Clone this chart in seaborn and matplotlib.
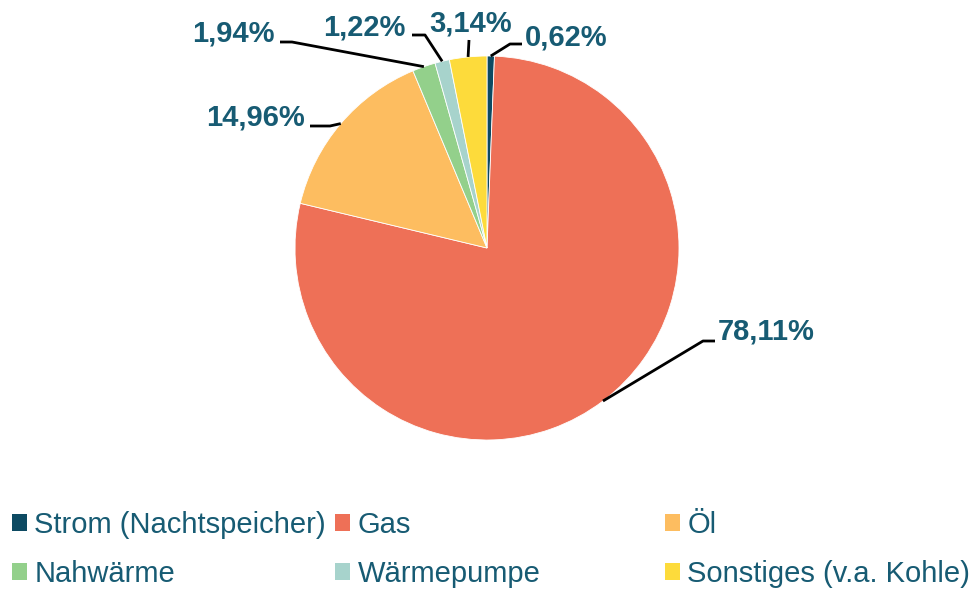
import numpy as np
import matplotlib
matplotlib.use("Agg")
import matplotlib.pyplot as plt
import seaborn as sns
from matplotlib.patches import Patch

sns.set_theme(style="white")
plt.rcParams['font.family'] = ['Liberation Sans', 'DejaVu Sans']

# data
categories = ["Strom (Nachtspeicher)", "Gas", "Öl", "Nahwärme", "Wärmepumpe", "Sonstiges (v.a. Kohle)"]
shares = [0.62, 78.11, 14.96, 1.94, 1.22, 3.14]
colors = sns.color_palette(["#0d4a62", "#ee7057", "#fdbd60", "#93d08b", "#a7d3cc", "#fddb3b"])

TEXT_COLOR = "#175b73"
W, H = 970, 590
CX, CY, R = 487, 248, 192  # pie centre / radius in pixels


def px(x, y):
    # pixel position (from top-left) -> data coords of the pie axes
    return (x - CX) / R, (CY - y) / R


# label layout: (elbow px, line end px, text px, ha, va)
label_layout = [
    ((510, 44), (522, 44), (525, 38), "left", "center"),
    ((703, 341), (715, 341), (718, 332), "left", "center"),
    ((330, 126), (310, 126), (305, 117), "right", "center"),
    ((292, 42), (280, 42), (275, 33), "right", "center"),
    ((425, 35), (412, 35), (406, 27), "right", "center"),
    ((469, 40), (469, 40), (471, 23), "center", "center"),
]

fig = plt.figure(figsize=(W / 100, H / 100), dpi=100)
ax = fig.add_axes([0, 0, 1, 1])

wedges, _ = ax.pie(shares, colors=colors, startangle=90, counterclock=False,
                   radius=1, wedgeprops=dict(edgecolor="white", linewidth=0.6))

ax.set_aspect("auto")
ax.set_xlim(-CX / R, (W - CX) / R)
ax.set_ylim(-(H - CY) / R, CY / R)
ax.axis("off")

for w, val, (elbow, end, txt, ha, va) in zip(wedges, shares, label_layout):
    mid = np.deg2rad((w.theta1 + w.theta2) / 2)
    sx, sy = np.cos(mid), np.sin(mid)
    ex, ey = px(*elbow)
    nx, ny = px(*end)
    ax.plot([sx, ex, nx], [sy, ey, ny], color="black", lw=2, solid_capstyle="butt")
    tx, ty = px(*txt)
    ax.text(tx, ty, f"{val:.2f}".replace(".", ",") + "%", ha=ha, va=va,
            fontsize=21, fontweight="bold", color=TEXT_COLOR)

# legend: three columns, two rows
col_x = [12, 335, 665]
for c in range(3):
    idx = [c, c + 3]
    handles = [Patch(facecolor=colors[i], edgecolor="none", label=categories[i]) for i in idx]
    leg = fig.legend(handles=handles, loc="center left",
                     bbox_to_anchor=(col_x[c] / W, 1 - 549.5 / H),
                     frameon=False, fontsize=21, borderpad=0, borderaxespad=0,
                     handlelength=0.52, handleheight=0.52, handletextpad=0.25,
                     labelspacing=0.72)
    for t in leg.get_texts():
        t.set_color(TEXT_COLOR)

fig.savefig("out.png", dpi=100)
